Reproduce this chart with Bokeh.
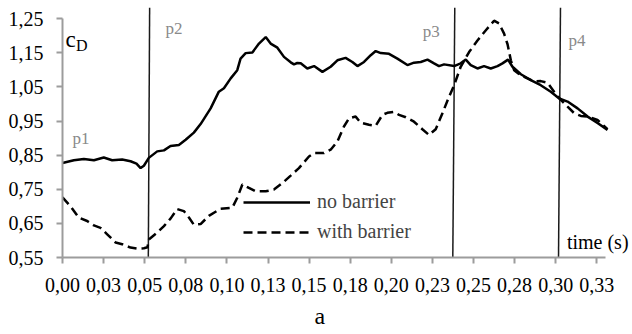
from bokeh.plotting import figure
from bokeh.models import Label, Legend, LegendItem, FixedTicker, Range1d, Title
from bokeh.embed import file_html
from bokeh.resources import INLINE

# Drag coefficient time series (s, c_D)
time_no_barrier = [0.0000, 0.0069, 0.0130, 0.0191, 0.0251, 0.0302, 0.0363, 0.0414, 0.0450,
                   0.0475, 0.0495, 0.0525, 0.0576, 0.0617, 0.0657, 0.0708, 0.0749, 0.0799,
                   0.0840, 0.0901, 0.0951, 0.0982, 0.1023, 0.1063, 0.1083, 0.1114, 0.1155,
                   0.1195, 0.1236, 0.1266, 0.1307, 0.1347, 0.1388, 0.1408, 0.1428, 0.1449,
                   0.1489, 0.1530, 0.1581, 0.1631, 0.1672, 0.1722, 0.1763, 0.1794, 0.1834,
                   0.1875, 0.1905, 0.1936, 0.1986, 0.2037, 0.2098, 0.2138, 0.2179, 0.2220,
                   0.2260, 0.2290, 0.2321, 0.2382, 0.2422, 0.2453, 0.2483, 0.2524, 0.2564,
                   0.2605, 0.2646, 0.2676, 0.2710, 0.2737, 0.2788, 0.2848, 0.2909, 0.2970,
                   0.3021, 0.3072, 0.3133, 0.3194, 0.3254, 0.3315]
cd_no_barrier = [0.827, 0.835, 0.839, 0.835, 0.843, 0.835, 0.837, 0.832, 0.825,
                 0.812, 0.819, 0.842, 0.861, 0.864, 0.877, 0.880, 0.895, 0.916,
                 0.941, 0.987, 1.036, 1.046, 1.075, 1.099, 1.133, 1.149, 1.151,
                 1.177, 1.196, 1.177, 1.165, 1.138, 1.122, 1.116, 1.120, 1.119,
                 1.104, 1.111, 1.094, 1.109, 1.128, 1.135, 1.123, 1.111, 1.123,
                 1.143, 1.155, 1.149, 1.147, 1.133, 1.114, 1.121, 1.123, 1.130,
                 1.119, 1.111, 1.116, 1.111, 1.119, 1.130, 1.114, 1.104, 1.111,
                 1.104, 1.111, 1.119, 1.130, 1.109, 1.087, 1.070, 1.055, 1.036,
                 1.016, 1.007, 0.987, 0.963, 0.944, 0.924]

time_with_barrier = [0.0000, 0.0049, 0.0099, 0.0150, 0.0191, 0.0231, 0.0272, 0.0323, 0.0363,
                     0.0414, 0.0455, 0.0495, 0.0517, 0.0525, 0.0576, 0.0617, 0.0657, 0.0698,
                     0.0738, 0.0769, 0.0799, 0.0840, 0.0890, 0.0962, 0.1033, 0.1063, 0.1094,
                     0.1134, 0.1175, 0.1236, 0.1286, 0.1337, 0.1388, 0.1438, 0.1499, 0.1530,
                     0.1590, 0.1631, 0.1672, 0.1712, 0.1743, 0.1783, 0.1814, 0.1864, 0.1905,
                     0.1946, 0.1976, 0.2016, 0.2047, 0.2088, 0.2138, 0.2189, 0.2229, 0.2270,
                     0.2311, 0.2351, 0.2382, 0.2422, 0.2473, 0.2524, 0.2575, 0.2625, 0.2655,
                     0.2686, 0.2707, 0.2727, 0.2747, 0.2788, 0.2828, 0.2869, 0.2909, 0.2950,
                     0.2990, 0.3031, 0.3072, 0.3112, 0.3153, 0.3194, 0.3254, 0.3295, 0.3315]
cd_with_barrier = [0.726, 0.700, 0.667, 0.657, 0.644, 0.637, 0.618, 0.594, 0.589,
                   0.579, 0.576, 0.577, 0.580, 0.603, 0.623, 0.642, 0.664, 0.692,
                   0.686, 0.667, 0.646, 0.648, 0.672, 0.693, 0.696, 0.725, 0.764,
                   0.754, 0.744, 0.744, 0.749, 0.768, 0.790, 0.812, 0.846, 0.856,
                   0.856, 0.866, 0.890, 0.934, 0.958, 0.963, 0.945, 0.939, 0.936,
                   0.968, 0.974, 0.977, 0.968, 0.961, 0.948, 0.926, 0.909, 0.926,
                   0.973, 1.021, 1.055, 1.109, 1.152, 1.186, 1.216, 1.244, 1.236,
                   1.206, 1.175, 1.128, 1.099, 1.084, 1.075, 1.066, 1.067, 1.062,
                   1.036, 1.012, 0.992, 0.973, 0.965, 0.963, 0.953, 0.935, 0.926]

# Axis ticks and their printed labels
x_ticks = [0.000, 0.025, 0.050, 0.075, 0.100, 0.125, 0.150, 0.175, 0.200,
           0.225, 0.250, 0.275, 0.300, 0.325]
x_tick_labels = ["0,00", "0,03", "0,05", "0,08", "0,10", "0,13", "0,15", "0,18", "0,20",
                 "0,23", "0,25", "0,28", "0,30", "0,33"]
y_ticks = [0.55, 0.65, 0.75, 0.85, 0.95, 1.05, 1.15, 1.25]
y_tick_labels = ["0,55", "0,65", "0,75", "0,85", "0,95", "1,05", "1,15", "1,25"]

# Probe marker lines (time at top and bottom of each line)
probe_time_top = [0.0530, 0.2386, 0.3029]
probe_time_bottom = [0.0522, 0.2374, 0.3017]
probe_cd_top = 1.283
probe_cd_bottom = 0.55

SERIF = "Liberation Serif"
AXIS_GREY = "#9c9c9c"

p = figure(width=632, height=334, output_backend="svg", toolbar_location=None,
           x_range=Range1d(0, 0.3467), y_range=Range1d(0.55, 1.2827),
           min_border_left=62, min_border_right=0, min_border_top=7, min_border_bottom=76)
p.outline_line_color = None
p.xgrid.visible = False
p.ygrid.visible = False
p.background_fill_color = "white"
p.border_fill_color = "white"

for ax in (p.xaxis[0], p.yaxis[0]):
    ax.axis_line_color = AXIS_GREY
    ax.axis_line_width = 2
    ax.major_tick_line_color = AXIS_GREY
    ax.major_tick_line_width = 2
    ax.major_tick_out = 6
    ax.major_tick_in = 0
    ax.minor_tick_line_color = None
    ax.major_label_text_font = SERIF
    ax.major_label_text_font_size = "20px"
    ax.major_label_text_color = "black"

p.xaxis.ticker = FixedTicker(ticks=x_ticks)
p.xaxis.major_label_overrides = dict(zip(x_ticks, x_tick_labels))
p.xaxis.bounds = (0, 0.33)
p.xaxis.major_label_standoff = 14
p.yaxis.ticker = FixedTicker(ticks=y_ticks)
p.yaxis.major_label_overrides = dict(zip(y_ticks, y_tick_labels))
p.yaxis.bounds = (0.55, 1.25)
p.yaxis.major_label_standoff = 13

# Panel caption under the axis
p.add_layout(Title(text="a", align="left", offset=252, standoff=12,
                   text_font=SERIF, text_font_size="24px", text_font_style="normal",
                   text_color="black"), "below")

# Probe marker lines
p.segment(x0=probe_time_bottom, y0=[probe_cd_bottom] * 3,
          x1=probe_time_top, y1=[probe_cd_top] * 3,
          line_color="#1a1a1a", line_width=1.5)

r_solid = p.line(time_no_barrier, cd_no_barrier, line_color="black", line_width=2.5)
r_dash = p.line(time_with_barrier, cd_with_barrier, line_color="black", line_width=2.5,
                line_dash="9 5")

legend = Legend(items=[LegendItem(label="no barrier", renderers=[r_solid]),
                       LegendItem(label="with barrier", renderers=[r_dash])],
                location=(181, 14), orientation="vertical",
                padding=0, margin=0, spacing=7,
                glyph_width=67, glyph_height=20, label_height=20, label_standoff=7,
                label_text_font=SERIF, label_text_font_size="20px",
                background_fill_alpha=0, border_line_color=None)
p.add_layout(legend)

def note(text, x, y, size, color="black", align="left", baseline="alphabetic"):
    p.add_layout(Label(x=x, y=y, text=text, text_font=SERIF, text_font_size=size,
                       text_color=color, text_align=align, text_baseline=baseline))

note("c", 0.0018, 1.189, "23px")
note("D", 0.0082, 1.172, "16px")
for name, tx, ty in [("p1", 0.0061, 0.8978), ("p2", 0.0627, 1.2214),
                     ("p3", 0.2191, 1.2127), ("p4", 0.3078, 1.1864)]:
    note(name, tx, ty, "17px", color="#8a8a8a")
note("time (s)", 0.3068, 0.5946, "20px", baseline="middle")

open("out.html", "w").write(file_html(p, INLINE))
